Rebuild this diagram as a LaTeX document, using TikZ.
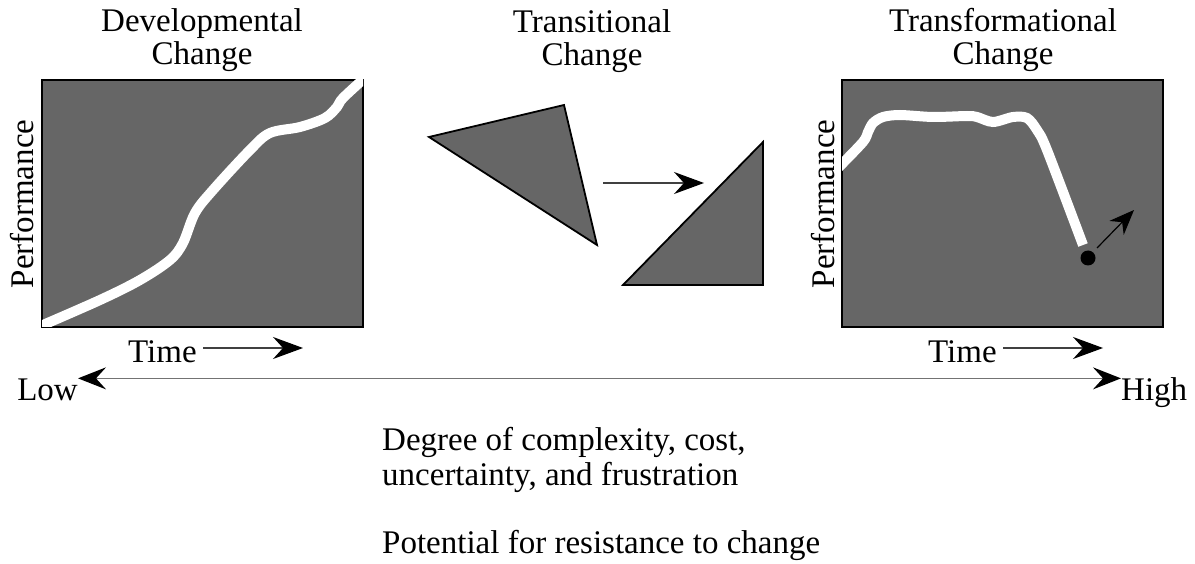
\documentclass[tikz,border=0pt]{standalone}
\usepackage{fontspec}
\setmainfont{Liberation Serif}
\usetikzlibrary{arrows.meta}
\begin{document}
\begin{tikzpicture}[x=1pt,y=-1pt,
  txt/.style={font=\fontsize{33}{33}\selectfont, inner sep=0pt},
  plotbox/.style={fill=boxgray, draw=black, line width=2pt},
  tri/.style={fill=boxgray, draw=black, line width=1.8pt, line join=miter},
  curve/.style={white, line width=10pt},
  head/.style={Stealth[length=30pt,width=22pt,inset=10pt,color=black]},
  bigarrow/.style={-{Stealth[length=30pt,width=22pt,inset=10pt,color=black]}, line width=1.2pt, draw=black!75},
  smallarrow/.style={-{Stealth[length=25pt,width=20pt,inset=8pt]}, line width=1.2pt, draw=black}
]
\definecolor{boxgray}{HTML}{666666}
\useasboundingbox (0,0) rectangle (1195,564);

% titles
\node[txt, align=center, anchor=base] (t1) at (202,65) {Developmental\\Change};
\node[txt, align=center, anchor=base] (t2) at (592,66) {Transitional\\Change};
\node[txt, align=center, anchor=base] (t3) at (1003,65) {Transformational\\Change};

% left plot
\path[plotbox] (42,80) rectangle (363,327);
\begin{scope}
\clip (42,80) rectangle (363,327);
\draw[curve] plot[smooth, tension=0.55] coordinates {(36,328) (100,300) (140,280) (170,260) (183,243) (195,213) (213,190) (250,150) (270,133) (300,127) (325,118) (337,107) (343,98) (368,75)};
\end{scope}
\node[txt, rotate=90, anchor=base] (p1) at (34,204) {Performance};
\node[txt, anchor=base west] (tm1) at (128,362) {Time};
\coordinate (a1s) at (203,348);
\coordinate (a1e) at (303,348);
\draw[bigarrow] (a1s) -- (a1e);

% middle triangles
\path[tri] (429,137) -- (564,105) -- (597,245) -- cycle;
\path[tri] (623,285) -- (763,142) -- (763,285) -- cycle;
\coordinate (a2s) at (603,183);
\coordinate (a2e) at (704,183);
\draw[bigarrow] (a2s) -- (a2e);

% right plot
\path[plotbox] (842,80) rectangle (1163,327);
\begin{scope}
\clip (842,80) rectangle (1163,327);
\draw[curve] plot[smooth, tension=0.5] coordinates {(838,168) (863,142) (868,132) (873,123) (883,117) (900,115) (933,117) (967,116) (977,117) (993,122) (1013,117) (1027,118) (1037,130) (1047,150) (1083,245)};
\end{scope}
\node[circle, fill=black, inner sep=0pt, minimum size=15pt] (dot) at (1088,258) {};
\coordinate (a3e) at (1134,210);
\draw[smallarrow] (1097,248) -- (a3e);
\node[txt, rotate=90, anchor=base] (p3) at (834,204) {Performance};
\node[txt, anchor=base west] (tm3) at (928,362) {Time};
\coordinate (a4s) at (1003,348);
\coordinate (a4e) at (1103,348);
\draw[bigarrow] (a4s) -- (a4e);

% scale
\node[txt, anchor=base east] (low) at (78,400) {Low};
\node[txt, anchor=base west] (high) at (1121,400) {High};
\draw[{Stealth[length=28pt,width=22pt,inset=10pt,color=black]}-{Stealth[length=28pt,width=22pt,inset=10pt,color=black]}, line width=1.5pt, draw=black!55] (low.east) ++(0,-11) coordinate (ls) -- (ls -| high.west);

% bottom text
\node[txt, anchor=base west] (deg) at (382,450) {Degree of complexity, cost,};
\node[txt, anchor=base west] (unc) at (382,485) {uncertainty, and frustration};
\node[txt, anchor=base west] (pot) at (382,553) {Potential for resistance to change};
\end{tikzpicture}
\end{document}
